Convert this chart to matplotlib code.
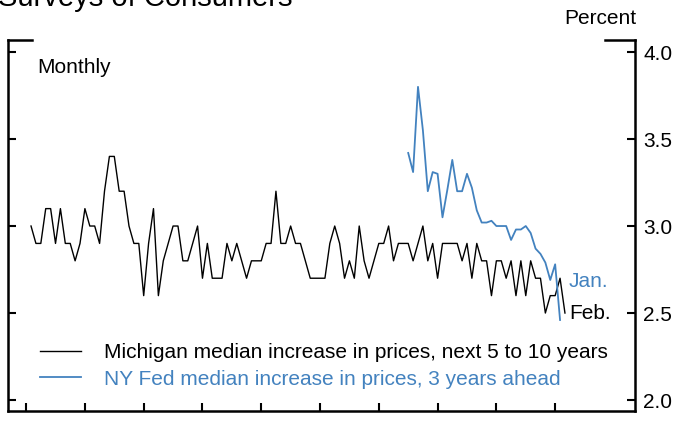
import matplotlib
matplotlib.use("Agg")
import matplotlib.pyplot as plt
import numpy as np
from matplotlib.lines import Line2D

plt.rcParams['font.family'] = ['Liberation Sans', 'DejaVu Sans']

# Monthly, index 0 = Jan 2007
michigan = [3.0, 2.9, 2.9, 3.1, 3.1, 2.9, 3.1, 2.9, 2.9, 2.8, 2.9, 3.1,
            3.0, 3.0, 2.9, 3.2, 3.4, 3.4, 3.2, 3.2, 3.0, 2.9, 2.9, 2.6,
            2.9, 3.1, 2.6, 2.8, 2.9, 3.0, 3.0, 2.8, 2.8, 2.9, 3.0, 2.7,
            2.9, 2.7, 2.7, 2.7, 2.9, 2.8, 2.9, 2.8, 2.7, 2.8, 2.8, 2.8,
            2.9, 2.9, 3.2, 2.9, 2.9, 3.0, 2.9, 2.9, 2.8, 2.7, 2.7, 2.7,
            2.7, 2.9, 3.0, 2.9, 2.7, 2.8, 2.7, 3.0, 2.8, 2.7, 2.8, 2.9,
            2.9, 3.0, 2.8, 2.9, 2.9, 2.9, 2.8, 2.9, 3.0, 2.8, 2.9, 2.7,
            2.9, 2.9, 2.9, 2.9, 2.8, 2.9, 2.7, 2.9, 2.8, 2.8, 2.6, 2.8,
            2.8, 2.7, 2.8, 2.6, 2.8, 2.6, 2.8, 2.7, 2.7, 2.5, 2.6, 2.6,
            2.7, 2.5]
# NY Fed, starts Jun 2013 (index 77)
nyfed_start = 77
nyfed = [3.42, 3.31, 3.80, 3.55, 3.20, 3.31, 3.30, 3.05, 3.21, 3.38,
         3.20, 3.20, 3.30, 3.22, 3.09, 3.02, 3.02, 3.03, 3.00, 3.00,
         3.00, 2.92, 2.98, 2.98, 3.00, 2.96, 2.87, 2.84, 2.79, 2.69,
         2.78, 2.46]
year_ticks = [2007 + i for i in range(10)]

blue = '#4382bf'
FS = 15

fig = plt.figure(figsize=(6.73, 4.32), dpi=100)
ax = fig.add_axes([8/673, 21/432, 627/673, 371/432])

x_m = np.arange(len(michigan))
x_n = np.arange(len(nyfed)) + nyfed_start
ax.plot(x_m, michigan, color='black', lw=1.0,
        label='Michigan median increase in prices, next 5 to 10 years')
ax.plot(x_n, nyfed, color=blue, lw=1.3,
        label='NY Fed median increase in prices, 3 years ahead')

ax.set_xlim(-4.7, 123.3)
ax.set_ylim(1.937, 4.069)

# ticks
ax.set_xticks([(y - 2007) * 12 - 1.0 for y in year_ticks])
ax.set_xticklabels([])
ax.set_yticks([2.0, 2.5, 3.0, 3.5, 4.0])
ax.yaxis.tick_right()
ax.tick_params(axis='y', which='both', left=True, right=True, labelleft=False,
               labelright=True, direction='in', length=6, width=1.5,
               labelsize=FS, pad=6)
ax.tick_params(axis='x', direction='in', length=6, width=1.5, bottom=True, top=False)
ax.set_yticklabels(['2.0', '2.5', '3.0', '3.5', '4.0'])

for s in ['left', 'right', 'bottom']:
    ax.spines[s].set_linewidth(1.8)
ax.spines['top'].set_visible(False)
# short top corner segments
ax.add_line(Line2D([0, 0.038], [1, 1], transform=ax.transAxes, color='black',
                   lw=1.8, clip_on=False, solid_capstyle='projecting'))
ax.add_line(Line2D([0.952, 1], [1, 1], transform=ax.transAxes, color='black',
                   lw=1.8, clip_on=False, solid_capstyle='projecting'))

ax.text(0.046, 0.927, 'Monthly', transform=ax.transAxes, fontsize=FS,
        va='center', ha='left')
fig.text(636/673, 1 - 18/432, 'Percent', fontsize=FS, ha='right', va='center')
fig.text(-0.003, 1 - 6/432, 'Surveys of Consumers', fontsize=21, ha='left',
         va='baseline')

ax.text(x_m[-1] + 0.8, nyfed[-1] + 0.22, 'Jan.', color=blue, fontsize=FS,
        va='center', ha='left')
ax.text(x_m[-1] + 0.8, michigan[-1], 'Feb.', color='black', fontsize=FS,
        va='center', ha='left')

leg = ax.legend(loc='upper left', bbox_to_anchor=(0.051, 0.183), frameon=False,
                fontsize=FS, handlelength=1.95, handletextpad=1.1,
                labelspacing=0.36, borderpad=0, borderaxespad=0,
                labelcolor='linecolor')

fig.savefig('out.png', dpi=100)
